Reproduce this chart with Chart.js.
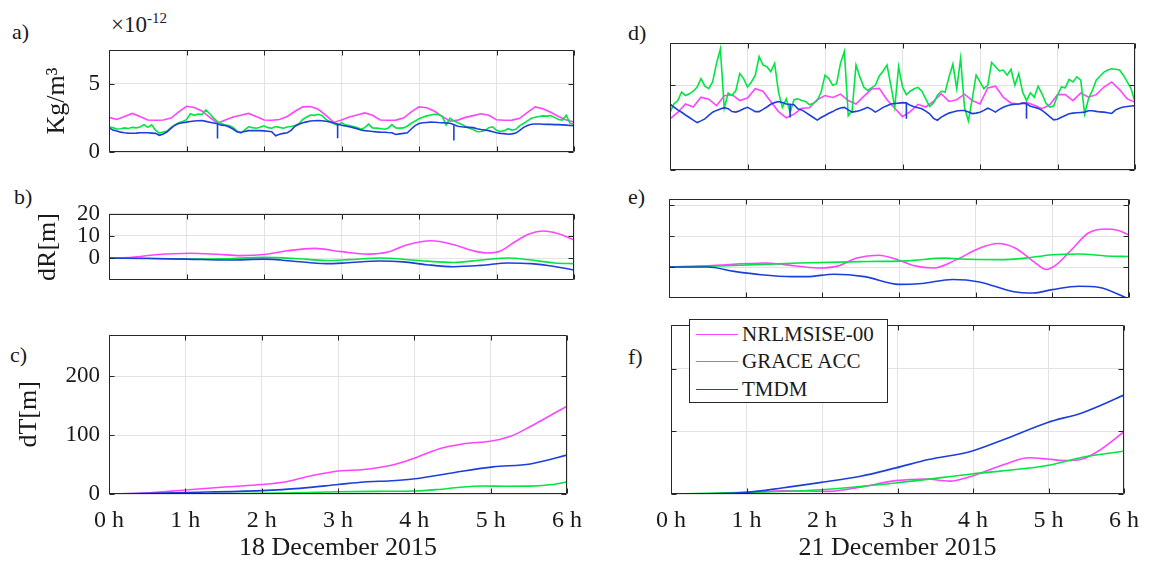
<!DOCTYPE html>
<html>
<head>
<meta charset="utf-8">
<script src="https://cdn.jsdelivr.net/npm/chart.js@4/dist/chart.umd.min.js"></script>
<style>
  html, body { margin: 0; padding: 0; background: #fff; }
  #fig { position: relative; width: 1151px; height: 564px; overflow: hidden;
         font-family: "Liberation Serif", "Times New Roman", serif; color: #1a1a1a; }
  #fig canvas { position: absolute; }
  .tag { position: absolute; font-size: 22px; line-height: 1; }
  #expo { position: absolute; left: 111px; top: 13px; font-size: 23px; line-height: 1; white-space: nowrap; }
  #expo sup { font-size: 15px; vertical-align: 9px; line-height: 0; }
  #legend { position: absolute; left: 689px; top: 319px; width: 199px; height: 84px; box-sizing: border-box;
            border: 1px solid #262626; background: #fff; z-index: 5; }
  .lrow { display: flex; align-items: center; height: 27.5px; font-size: 21px; line-height: 1; }
  .lrow:first-child { margin-top: 0.5px; }
  .lline { width: 42px; height: 0; margin-left: 6px; margin-right: 4px; border-top: 1.6px solid; }
</style>
</head>
<body>
<div id="fig">
  <div class="tag" style="left:12px;top:21px">a)</div>
  <div class="tag" style="left:14px;top:186px">b)</div>
  <div class="tag" style="left:10px;top:344px">c)</div>
  <div class="tag" style="left:628px;top:22px">d)</div>
  <div class="tag" style="left:628px;top:186px">e)</div>
  <div class="tag" style="left:628px;top:346px">f)</div>
  <div id="expo">&#215;10<sup>-12</sup></div>
  <div id="legend"></div>
</div>
<script>
// ---------- shared axis content ----------
const HOURS = [0, 1, 2, 3, 4, 5, 6];
const HOUR_LABELS = ['0 h', '1 h', '2 h', '3 h', '4 h', '5 h', '6 h'];
const DATES = ['18 December 2015', '21 December 2015'];
const SERIES_NAMES = ['NRLMSISE-00', 'GRACE ACC', 'TMDM'];
const RHO_TICKS = [0, 5];
const DR_TICKS = [0, 10, 20];
const DT_TICKS = [0, 100, 200];
const RHO_TITLE = 'Kg/m\u00B3';
const DR_TITLE = 'dR[m]';
const DT_TITLE = 'dT[m]';

// ---------- density (x 1e-12 kg/m^3), 18 Dec ----------
// NRLMSISE-00 every 0.1 h, GRACE ACC and TMDM every 0.05 h
const rho18_nrl = [2.55,2.40,2.62,2.84,2.62,2.36,2.34,2.36,2.50,2.95,
  3.36,3.28,3.02,2.55,2.12,2.35,2.58,2.70,2.84,2.62,
  2.36,2.34,2.40,2.62,3.00,3.32,3.34,3.14,2.70,2.18,
  2.35,2.58,2.72,2.88,2.70,2.36,2.34,2.35,2.50,2.95,
  3.32,3.25,3.00,2.62,2.28,2.35,2.55,2.68,2.82,2.70,
  2.38,2.34,2.35,2.48,2.92,3.32,3.18,2.92,2.62,2.36,
  2.20];
const rho18_acc = [1.85,1.80,1.70,1.72,1.78,1.74,1.82,1.78,1.85,2.02,
  1.82,2.00,1.62,1.40,1.48,1.55,1.82,2.00,2.16,2.25,
  2.38,2.82,2.70,2.80,2.76,3.10,2.82,2.50,2.24,2.10,
  1.98,1.95,1.82,1.55,1.40,1.62,1.86,1.80,1.76,1.82,
  1.93,1.80,1.76,1.88,1.82,1.76,1.84,1.88,1.95,2.08,
  2.40,2.58,2.72,2.70,2.78,2.68,2.40,2.24,2.10,1.96,
  2.16,2.00,1.96,1.88,1.80,1.68,1.80,2.06,1.78,1.76,
  1.74,1.68,1.76,2.02,1.78,1.76,1.78,1.92,2.12,2.28,
  2.45,2.56,2.66,2.72,2.78,2.76,2.62,2.00,2.50,2.30,
  2.16,2.05,1.88,1.76,1.66,1.50,1.52,1.58,1.80,1.86,
  1.60,1.52,1.58,1.72,1.62,1.68,1.95,2.10,2.30,2.48,
  2.56,2.62,2.66,2.64,2.68,2.55,2.40,2.35,2.70,2.10,
  2.08];
const rho18_tmdm = [1.80,1.62,1.55,1.47,1.43,1.40,1.39,1.40,1.42,1.43,
  1.42,1.40,1.38,1.24,1.34,1.50,1.75,1.98,2.10,2.16,
  2.20,2.25,2.28,2.30,2.32,2.26,2.20,2.14,2.08,1.98,
  1.95,1.85,1.70,1.50,1.45,1.52,1.58,1.58,1.58,1.58,
  1.56,1.54,1.50,1.20,1.32,1.38,1.43,1.60,1.90,2.05,
  2.16,2.22,2.28,2.30,2.32,2.30,2.27,2.22,2.14,2.06,
  1.97,1.92,1.86,1.80,1.72,1.62,1.58,1.55,1.52,1.49,
  1.47,1.46,1.44,1.43,1.30,1.34,1.38,1.42,1.70,1.95,
  2.10,2.16,2.18,2.20,2.19,2.17,2.16,2.14,2.12,2.02,
  1.90,1.86,1.84,1.82,1.80,1.72,1.66,1.62,1.58,1.50,
  1.42,1.38,1.36,1.32,1.34,1.40,1.60,1.82,1.95,2.05,
  2.07,2.06,2.05,2.04,2.04,2.02,2.02,2.00,1.98,1.96,
  1.95];
// narrow downward drops in the TMDM density
const rho18_tmdm_drop_t = [1.40, 2.95, 4.45, 6.0];
const rho18_tmdm_drop_v = [1.00, 1.02, 0.86, 0.72];

// ---------- density (x 1e-12 kg/m^3), 21 Dec ----------
const rho21_nrl = [3.02,3.40,3.90,3.72,4.30,4.18,3.80,4.38,4.45,4.10,
  4.25,4.80,4.65,4.05,3.45,3.08,3.30,3.65,3.68,4.15,
  4.40,4.28,4.48,4.10,3.90,4.35,4.78,4.82,4.15,3.65,
  3.15,3.45,3.88,3.72,4.05,4.50,4.05,4.15,4.48,4.10,
  3.90,4.85,4.95,4.30,3.95,3.90,4.00,3.82,3.62,3.85,
  4.45,4.45,4.10,4.55,4.30,4.45,4.90,5.20,4.75,4.20,
  4.00];
const rho21_acc = [3.40,3.90,4.10,4.60,4.40,4.50,4.65,4.90,5.40,4.95,
  4.80,5.20,6.30,7.15,3.65,4.55,4.40,4.70,5.70,5.40,
  4.90,5.20,5.60,6.70,6.20,6.10,5.80,6.30,4.60,3.70,
  4.20,3.40,4.15,4.20,4.10,4.05,3.85,3.95,4.10,4.60,
  5.60,5.40,5.00,5.10,6.30,7.00,3.20,3.50,6.20,5.50,
  4.90,4.70,4.85,5.00,5.55,5.85,6.20,5.00,3.70,6.10,
  4.90,4.45,4.65,4.80,4.88,4.65,4.20,3.75,3.95,4.40,
  4.65,4.60,5.50,6.25,4.80,6.60,3.70,2.90,4.20,5.60,
  5.20,4.80,5.00,6.35,6.10,5.85,5.90,5.60,5.95,5.00,
  5.70,4.60,4.10,4.55,4.30,4.95,4.50,3.95,3.72,3.78,
  4.40,4.90,4.85,5.35,5.20,5.50,5.30,3.30,4.20,4.70,
  5.30,5.55,5.78,5.90,5.98,5.95,5.90,5.60,5.20,4.80,
  4.00];
const rho21_tmdm = [3.90,3.72,3.55,3.41,3.25,3.10,2.95,2.80,2.90,3.02,
  3.22,3.41,3.52,3.60,3.68,3.62,3.45,3.42,3.50,3.62,
  3.70,3.58,3.45,3.45,3.58,3.72,3.88,3.98,4.04,3.98,
  3.90,3.88,3.85,3.62,3.55,3.40,3.25,3.10,2.95,3.10,
  3.22,3.35,3.45,3.58,3.66,3.70,3.55,3.42,3.46,3.51,
  3.60,3.70,3.58,3.42,3.55,3.70,3.80,3.90,3.93,3.95,
  3.98,3.96,3.82,3.74,3.68,3.62,3.48,3.32,3.05,2.94,
  3.12,3.25,3.36,3.42,3.48,3.51,3.51,3.42,3.33,3.36,
  3.41,3.52,3.65,3.55,3.42,3.58,3.70,3.80,3.85,3.88,
  3.90,3.95,3.92,3.76,3.70,3.64,3.52,3.35,3.15,2.96,
  3.00,3.12,3.22,3.32,3.36,3.38,3.40,3.42,3.50,3.50,
  3.46,3.43,3.42,3.38,3.34,3.55,3.65,3.72,3.75,3.78,
  3.80];
const rho21_tmdm_drop_t = [1.55, 3.05, 4.60];
const rho21_tmdm_drop_v = [3.10, 3.02, 3.02];

// ---------- radial orbit difference dR [m] ----------
const dR18_nrl_t = [0,0.3,0.6,1.05,1.4,1.7,2.0,2.3,2.65,3.0,3.34,3.6,3.85,4.16,4.45,4.7,4.88,5.05,5.25,5.42,5.6,5.8,6.0];
const dR18_nrl   = [0,0.4,1.5,2.2,1.7,1.1,1.6,3.3,4.4,2.9,1.8,2.7,6.0,7.8,6.0,3.3,2.3,3.2,7.6,10.9,12.2,11.0,8.2];
const dR18_acc_t = [0,0.5,1.05,1.5,2.0,2.4,2.8,3.1,3.5,3.8,4.1,4.45,4.8,5.15,5.45,5.75,6.0];
const dR18_acc   = [0,-0.1,-0.5,-0.3,0.3,-0.2,-1.1,-0.7,0.0,-0.5,-1.4,-2.0,-0.9,0.0,-0.9,-2.2,-2.5];
const dR18_tmdm_t = [0,0.5,1.0,1.55,2.0,2.35,2.8,3.05,3.5,3.8,4.1,4.45,4.8,5.15,5.45,5.75,6.0];
const dR18_tmdm   = [0,-0.2,-0.5,-0.9,-0.5,-1.3,-2.5,-2.2,-1.3,-1.7,-3.0,-3.9,-3.3,-2.2,-2.5,-3.8,-5.4];

const dR21_nrl_t = [0,0.5,1.25,1.5,1.95,2.2,2.45,2.73,3.0,3.2,3.45,3.75,4.05,4.29,4.52,4.76,4.92,5.05,5.25,5.47,5.7,5.85,6.0];
const dR21_nrl   = [0,0.4,1.3,0.8,-0.3,0.3,2.9,3.8,2.2,0.4,-0.3,2.4,6.1,7.6,6.1,1.7,-0.8,0.7,5.6,11.0,12.3,11.9,10.4];
const dR21_acc_t = [0,0.75,1.7,2.6,3.1,3.6,3.8,4.3,4.65,5.0,5.35,5.7,6.0];
const dR21_acc   = [0,0.4,1.3,1.8,2.0,2.9,2.6,2.4,2.9,4.0,4.2,3.6,3.4];
const dR21_tmdm_t = [0,0.5,0.85,1.2,1.6,1.8,2.15,2.55,3.0,3.3,3.7,4.05,4.5,4.75,5.0,5.35,5.6,6.0];
const dR21_tmdm   = [0,0,-1.4,-2.5,-3.1,-3.1,-2.3,-3.1,-5.6,-5.3,-4.0,-4.8,-8.0,-8.4,-7.3,-6.2,-6.5,-10.3];

// ---------- along-track orbit difference dT [m] ----------
const dT18_nrl_t = [0,0.47,1.0,1.56,2.0,2.3,2.65,3.0,3.34,3.74,4.0,4.33,4.63,5.03,5.27,5.52,5.82,6.0];
const dT18_nrl   = [0,1.6,6.9,12.3,16.1,20.4,31,39,41.5,50,60.6,76.8,84.8,90.3,98.4,114.5,136,149];
const dT18_acc_t = [0,1,2,2.5,3,3.5,4,4.3,4.6,4.9,5.2,5.5,5.8,6.0];
const dT18_acc   = [0,0.4,1.2,2.2,3.8,4.5,5.0,7.5,11.5,13.5,13.2,13.3,16,20.3];
const dT18_tmdm_t = [0,1,2,2.5,3,3.34,3.7,4.01,4.53,5.03,5.52,6.0];
const dT18_tmdm   = [0,2.6,5.8,9.5,16,20.4,22.5,25.8,36.6,46,51,66];

const dT21_nrl_t = [0,1.0,1.47,2.09,2.51,2.98,3.36,3.69,3.98,4.41,4.74,4.98,5.21,5.45,5.69,6.0];
const dT21_nrl   = [0,1,5.3,4.2,11,21.3,24,20.5,28.3,47,57.8,56,53.5,56,71,99.5];
const dT21_acc_t = [0,1,1.99,2.98,3.98,4.98,5.45,6.0];
const dT21_acc   = [0,2.6,6.9,17.7,32,45.4,58.8,68.4];
const dT21_tmdm_t = [0,0.5,1.0,1.47,1.99,2.51,2.98,3.41,3.98,4.41,4.98,5.45,6.0];
const dT21_tmdm   = [0,0.3,2.6,9.6,18.6,28.3,41.7,55,68.4,87,114,130,158];

// ---------- styling ----------
const SERIF = '"Liberation Serif", "Times New Roman", serif';
const INK = '#1a1a1a';
const FRAME = '#262626';
const GRID = '#e2e2e2';
const LINE_COLORS = ['#ff44ff', '#00e640', '#1c3fdc'];

Chart.defaults.font.family = SERIF;
Chart.defaults.color = INK;

// sampling grids of the density series
const t10 = Array.from({ length: rho18_nrl.length }, (_, i) => i / 10);
const t05 = Array.from({ length: rho18_acc.length }, (_, i) => i / 20);

const pts = (t, v) => v.map((y, i) => ({ x: t[i], y }));

// series with narrow drops: the line goes straight down to the drop value and back at that sample
function ptsWithDrops(t, v, dropT, dropV) {
  const out = [];
  t.forEach((x, i) => {
    out.push({ x, y: v[i] });
    const k = dropT.findIndex(d => Math.abs(d - x) < 1e-6);
    if (k >= 0) {
      out.push({ x, y: dropV[k] });
      if (i < t.length - 1) out.push({ x, y: v[i] });
    }
  });
  return out;
}

// box around the plot area with inward tick marks on all four sides
const framePlugin = {
  id: 'frame',
  afterDatasetsDraw(chart) {
    const { ctx, chartArea: a, scales } = chart;
    const L = Math.round(a.left) + 0.5, R = Math.round(a.right) - 0.5;
    const T = Math.round(a.top) + 0.5, B = Math.round(a.bottom) - 0.5;
    const tl = 5;
    ctx.save();
    ctx.strokeStyle = FRAME;
    ctx.lineWidth = 1;
    ctx.beginPath();
    ctx.rect(L, T, R - L, B - T);
    scales.x.ticks.forEach(t => {
      const x = Math.round(scales.x.getPixelForValue(t.value)) + 0.5;
      ctx.moveTo(x, B); ctx.lineTo(x, B - tl);
      ctx.moveTo(x, T); ctx.lineTo(x, T + tl);
    });
    scales.y.ticks.forEach(t => {
      const y = Math.round(scales.y.getPixelForValue(t.value)) + 0.5;
      ctx.moveTo(L, y); ctx.lineTo(L + tl, y);
      ctx.moveTo(R, y); ctx.lineTo(R - tl, y);
    });
    ctx.stroke();
    ctx.restore();
  }
};

const fig = document.getElementById('fig');

function addPanel(p) {
  const axW = p.col === 0 ? 109 : 40;
  const xH = p.xTitle ? 70 : 6;
  const padTop = 14, padRight = 20;
  const [L, T, R, B] = p.frame;
  const w = R - L + axW + padRight;
  const h = B - T + padTop + xH;
  const cv = document.createElement('canvas');
  cv.width = w; cv.height = h;
  cv.style.left = (L - axW) + 'px';
  cv.style.top = (T - padTop) + 'px';
  cv.style.width = w + 'px';
  cv.style.height = h + 'px';
  fig.appendChild(cv);

  const datasets = p.series.map((s, i) => ({
    label: SERIES_NAMES[i],
    data: s.pts || pts(s.t, s.v),
    borderColor: LINE_COLORS[i],
    borderWidth: 1.6,
    pointRadius: 0,
    fill: false,
    tension: 0,
    cubicInterpolationMode: s.smooth ? 'monotone' : 'default',
    order: 2 - i
  }));

  new Chart(cv.getContext('2d'), {
    type: 'line',
    data: { datasets },
    options: {
      responsive: false,
      animation: false,
      events: [],
      layout: { padding: { left: 0, top: padTop, right: padRight, bottom: 0 }, autoPadding: false },
      plugins: { legend: { display: false }, tooltip: { enabled: false } },
      scales: {
        x: {
          type: 'linear', min: 0, max: 6,
          afterBuildTicks: s => { s.ticks = HOURS.map(v => ({ value: v })); },
          afterFit: s => { s.height = xH; },
          grid: { color: GRID, lineWidth: 1, drawTicks: false },
          border: { display: false },
          ticks: {
            display: !!p.xTitle, autoSkip: false, maxRotation: 0, padding: 12,
            font: { family: SERIF, size: 24 }, color: INK,
            callback: (v, i) => HOUR_LABELS[i]
          },
          title: {
            display: !!p.xTitle, text: p.xTitle || '', color: INK,
            font: { family: SERIF, size: 26 }, padding: { top: 0, bottom: 0 }
          }
        },
        y: {
          type: 'linear', min: p.yMin, max: p.yMax,
          afterBuildTicks: s => { s.ticks = p.yTicks.map(v => ({ value: v })); },
          afterFit: s => { s.width = axW; },
          grid: { color: GRID, lineWidth: 1, drawTicks: false },
          border: { display: false },
          ticks: {
            display: p.col === 0, padding: 9,
            font: { family: SERIF, size: 23 }, color: INK,
            callback: v => String(v)
          },
          title: {
            display: !!p.yTitle, text: p.yTitle || '', color: INK,
            font: { family: SERIF, size: 26 },
            padding: { top: p.yTitlePad || 0, bottom: 0 }
          }
        }
      }
    },
    plugins: [framePlugin]
  });
}

// ---------- panels ----------
addPanel({ col: 0, frame: [109, 41, 574, 169], yMin: 0, yMax: 7.5, yTicks: RHO_TICKS,
  yTitle: RHO_TITLE, yTitlePad: 42,
  series: [{ t: t10, v: rho18_nrl }, { t: t05, v: rho18_acc },
           { pts: ptsWithDrops(t05, rho18_tmdm, rho18_tmdm_drop_t, rho18_tmdm_drop_v) }] });
addPanel({ col: 0, frame: [109, 205, 574, 297], yMin: -10, yMax: 20, yTicks: DR_TICKS,
  yTitle: DR_TITLE, yTitlePad: 33,
  series: [{ t: dR18_nrl_t, v: dR18_nrl, smooth: true }, { t: dR18_acc_t, v: dR18_acc, smooth: true },
           { t: dR18_tmdm_t, v: dR18_tmdm, smooth: true }] });
addPanel({ col: 0, frame: [109, 326, 574, 494], yMin: 0, yMax: 270, yTicks: DT_TICKS,
  yTitle: DT_TITLE, yTitlePad: 14, xTitle: DATES[0],
  series: [{ t: dT18_nrl_t, v: dT18_nrl, smooth: true }, { t: dT18_acc_t, v: dT18_acc, smooth: true },
           { t: dT18_tmdm_t, v: dT18_tmdm, smooth: true }] });

addPanel({ col: 1, frame: [670, 43, 1135, 170], yMin: 0, yMax: 7.5, yTicks: RHO_TICKS,
  series: [{ t: t10, v: rho21_nrl }, { t: t05, v: rho21_acc },
           { pts: ptsWithDrops(t05, rho21_tmdm, rho21_tmdm_drop_t, rho21_tmdm_drop_v) }] });
addPanel({ col: 1, frame: [669, 199, 1129, 298], yMin: -10, yMax: 22, yTicks: DR_TICKS,
  series: [{ t: dR21_nrl_t, v: dR21_nrl, smooth: true }, { t: dR21_acc_t, v: dR21_acc, smooth: true },
           { t: dR21_tmdm_t, v: dR21_tmdm, smooth: true }] });
addPanel({ col: 1, frame: [671, 325, 1131, 494], yMin: 0, yMax: 270, yTicks: DT_TICKS,
  xTitle: DATES[1],
  series: [{ t: dT21_nrl_t, v: dT21_nrl, smooth: true }, { t: dT21_acc_t, v: dT21_acc, smooth: true },
           { t: dT21_tmdm_t, v: dT21_tmdm, smooth: true }] });

// ---------- legend ----------
const legend = document.getElementById('legend');
SERIES_NAMES.forEach((name, i) => {
  const row = document.createElement('div');
  row.className = 'lrow';
  const ln = document.createElement('span');
  ln.className = 'lline';
  ln.style.borderTopColor = LINE_COLORS[i];
  const tx = document.createElement('span');
  tx.textContent = name;
  row.appendChild(ln);
  row.appendChild(tx);
  legend.appendChild(row);
});
</script>
</body>
</html>
